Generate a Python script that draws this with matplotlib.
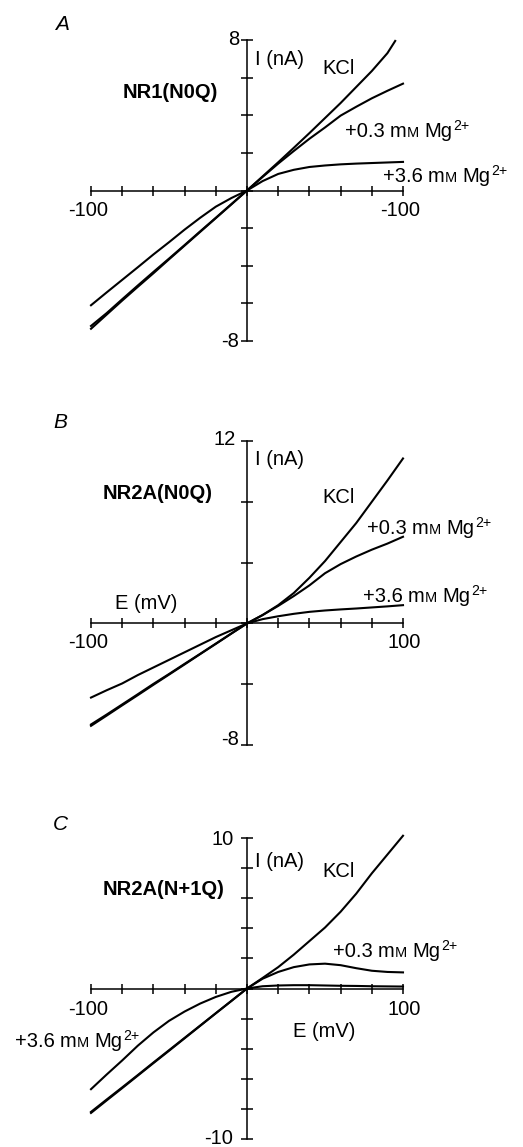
import matplotlib
matplotlib.use("Agg")
import matplotlib.pyplot as plt
import numpy as np

plt.rcParams['font.family'] = ['Liberation Sans', 'DejaVu Sans']

# ---------------- data ----------------
E_std = [-100, -90, -80, -70, -60, -50, -40, -30, -20, -10, 0,
         10, 20, 30, 40, 50, 60, 70, 80, 90, 100]
E_A_kcl = [-100, -90, -80, -70, -60, -50, -40, -30, -20, -10, 0,
           10, 20, 30, 40, 50, 60, 70, 80, 90, 95]

# Panel A  NR1(N0Q)
A_kcl = [-7.35, -6.6, -5.85, -5.12, -4.4, -3.66, -2.93, -2.2, -1.47, -0.74, 0,
         0.75, 1.5, 2.27, 3.05, 3.85, 4.65, 5.5, 6.35, 7.3, 7.95]
A_mg03 = [-7.2, -6.52, -5.78, -5.05, -4.33, -3.62, -2.9, -2.17, -1.45, -0.72, 0,
          0.72, 1.43, 2.1, 2.75, 3.35, 3.98, 4.45, 4.9, 5.3, 5.68]
A_mg36 = [-6.1, -5.42, -4.75, -4.08, -3.4, -2.75, -2.08, -1.45, -0.86, -0.4, 0,
          0.5, 0.88, 1.1, 1.25, 1.33, 1.39, 1.43, 1.46, 1.49, 1.52]

# Panel B  NR2A(N0Q)
B_kcl = [-6.74, -6.07, -5.39, -4.72, -4.04, -3.37, -2.7, -2.02, -1.35, -0.67, 0,
         0.55, 1.2, 2.0, 3.0, 4.1, 5.35, 6.6, 8.0, 9.4, 10.85]
B_mg03 = [-6.65, -6.0, -5.33, -4.66, -3.98, -3.33, -2.66, -2.0, -1.33, -0.66, 0,
          0.55, 1.15, 1.8, 2.5, 3.3, 3.9, 4.4, 4.85, 5.25, 5.7]
B_mg36 = [-4.88, -4.4, -3.95, -3.4, -2.9, -2.4, -1.9, -1.4, -0.9, -0.45, 0,
          0.28, 0.47, 0.63, 0.76, 0.85, 0.92, 0.98, 1.05, 1.12, 1.2]

# Panel C  NR2A(N+1Q)
C_kcl = [-8.27, -7.44, -6.62, -5.79, -4.96, -4.14, -3.31, -2.48, -1.65, -0.83, 0,
         0.7, 1.42, 2.25, 3.15, 4.05, 5.1, 6.3, 7.65, 8.9, 10.15]
C_mg03 = [-8.2, -7.38, -6.57, -5.75, -4.92, -4.1, -3.28, -2.46, -1.64, -0.82, 0,
          0.65, 1.1, 1.42, 1.6, 1.65, 1.55, 1.35, 1.18, 1.1, 1.07]
C_mg36 = [-6.69, -5.72, -4.78, -3.8, -2.92, -2.15, -1.53, -1.0, -0.56, -0.22, 0,
          0.15, 0.2, 0.22, 0.22, 0.2, 0.18, 0.17, 0.15, 0.14, 0.13]

titles = ['NR1(N0Q)', 'NR2A(N0Q)', 'NR2A(N+1Q)']
letters = ['A', 'B', 'C']
ylims = [(-8, 8), (-8, 12), (-10, 10)]
ystep = [2, 4, 2]

# ---------------- figure ----------------
W, H = 523, 1147
fig = plt.figure(figsize=(W / 100, H / 100), dpi=100)
fig.patch.set_facecolor('white')

FS = 14.5


def fx(x):
    return x / W


def fy(y):
    return 1 - y / H


def ftext(x, y, s, **kw):
    kw.setdefault('fontsize', FS)
    kw.setdefault('va', 'baseline')
    return fig.text(fx(x), fy(y), s, **kw)


renderer = fig.canvas.get_renderer()


def mg_label(x, y, conc):
    parts = [('+' + conc, FS, 0, 0),
             ('m', FS, 5, 0),
             ('M', FS * 0.72, 0.5, 0),
             ('Mg', FS, 5, 0),
             ('2+', FS * 0.7, 0.5, 7)]
    cx = x
    for s, size, gap, dy in parts:
        cx += gap
        t = ftext(cx, y - dy, s, fontsize=size, ha='left')
        bb = t.get_window_extent(renderer)
        cx += bb.width


# axes boxes in pixels: (top, bottom)
boxes = [(40, 341), (441, 745), (838, 1139)]
xl, xr = 91, 403

series = [
    (E_A_kcl, A_kcl, E_std, A_mg03, E_std, A_mg36),
    (E_std, B_kcl, E_std, B_mg03, E_std, B_mg36),
    (E_std, C_kcl, E_std, C_mg03, E_std, C_mg36),
]

for i in range(3):
    top, bot = boxes[i]
    ax = fig.add_axes([fx(xl), fy(bot), (xr - xl) / W, (bot - top) / H])
    ax.set_xlim(-100, 100)
    ax.set_ylim(*ylims[i])
    ax.patch.set_alpha(0)
    for side in ['top', 'right']:
        ax.spines[side].set_visible(False)
    ax.spines['left'].set_position(('data', 0))
    ax.spines['bottom'].set_position(('data', 0))
    for side in ['left', 'bottom']:
        ax.spines[side].set_linewidth(1.1)
    ax.set_xticks(np.arange(-100, 101, 20))
    ax.set_yticks(np.arange(ylims[i][0], ylims[i][1] + 0.1, ystep[i]))
    ax.set_xticklabels([])
    ax.set_yticklabels([])
    ax.tick_params(direction='inout', length=7, width=1.1)
    ax.tick_params(axis='y', direction='inout', length=8)

    e1, k, e2, m3, e3, m36 = series[i]
    for e, v in [(e1, k), (e2, m3), (e3, m36)]:
        ax.plot(e, v, color='black', lw=1.5, solid_joinstyle='round',
                clip_on=False)

# ---------------- texts ----------------
# Panel A
ftext(55, 30, 'A', fontsize=15, style='italic')
ftext(239, 45, '8', ha='right')
ftext(255, 65, 'I (nA)')
ftext(322, 74, 'KCl')
ftext(123, 98, titles[0], fontweight='bold')
mg_label(345, 137, '0.3')
mg_label(383, 182, '3.6')
ftext(88, 216, '-100', ha='center')
ftext(400, 216, '-100', ha='center')
ftext(239, 347, '-8', ha='right')

# Panel B
ftext(53, 428, 'B', fontsize=15, style='italic')
ftext(236, 445, '12', ha='right')
ftext(255, 465, 'I (nA)')
ftext(103, 499, titles[1], fontweight='bold')
ftext(322, 503, 'KCl')
mg_label(367, 534, '0.3')
mg_label(363, 602, '3.6')
ftext(115, 609, 'E (mV)')
ftext(88, 648, '-100', ha='center')
ftext(404, 648, '100', ha='center')
ftext(239, 745, '-8', ha='right')

# Panel C
ftext(53, 830, 'C', fontsize=15, style='italic')
ftext(234, 845, '10', ha='right')
ftext(255, 867, 'I (nA)')
ftext(322, 877, 'KCl')
ftext(103, 895, titles[2], fontweight='bold')
mg_label(333, 957, '0.3')
ftext(88, 1015, '-100', ha='center')
ftext(404, 1015, '100', ha='center')
ftext(293, 1037, 'E (mV)')
mg_label(15, 1047, '3.6')
ftext(233, 1144, '-10', ha='right')

fig.savefig('out.png', dpi=100, facecolor='white')
